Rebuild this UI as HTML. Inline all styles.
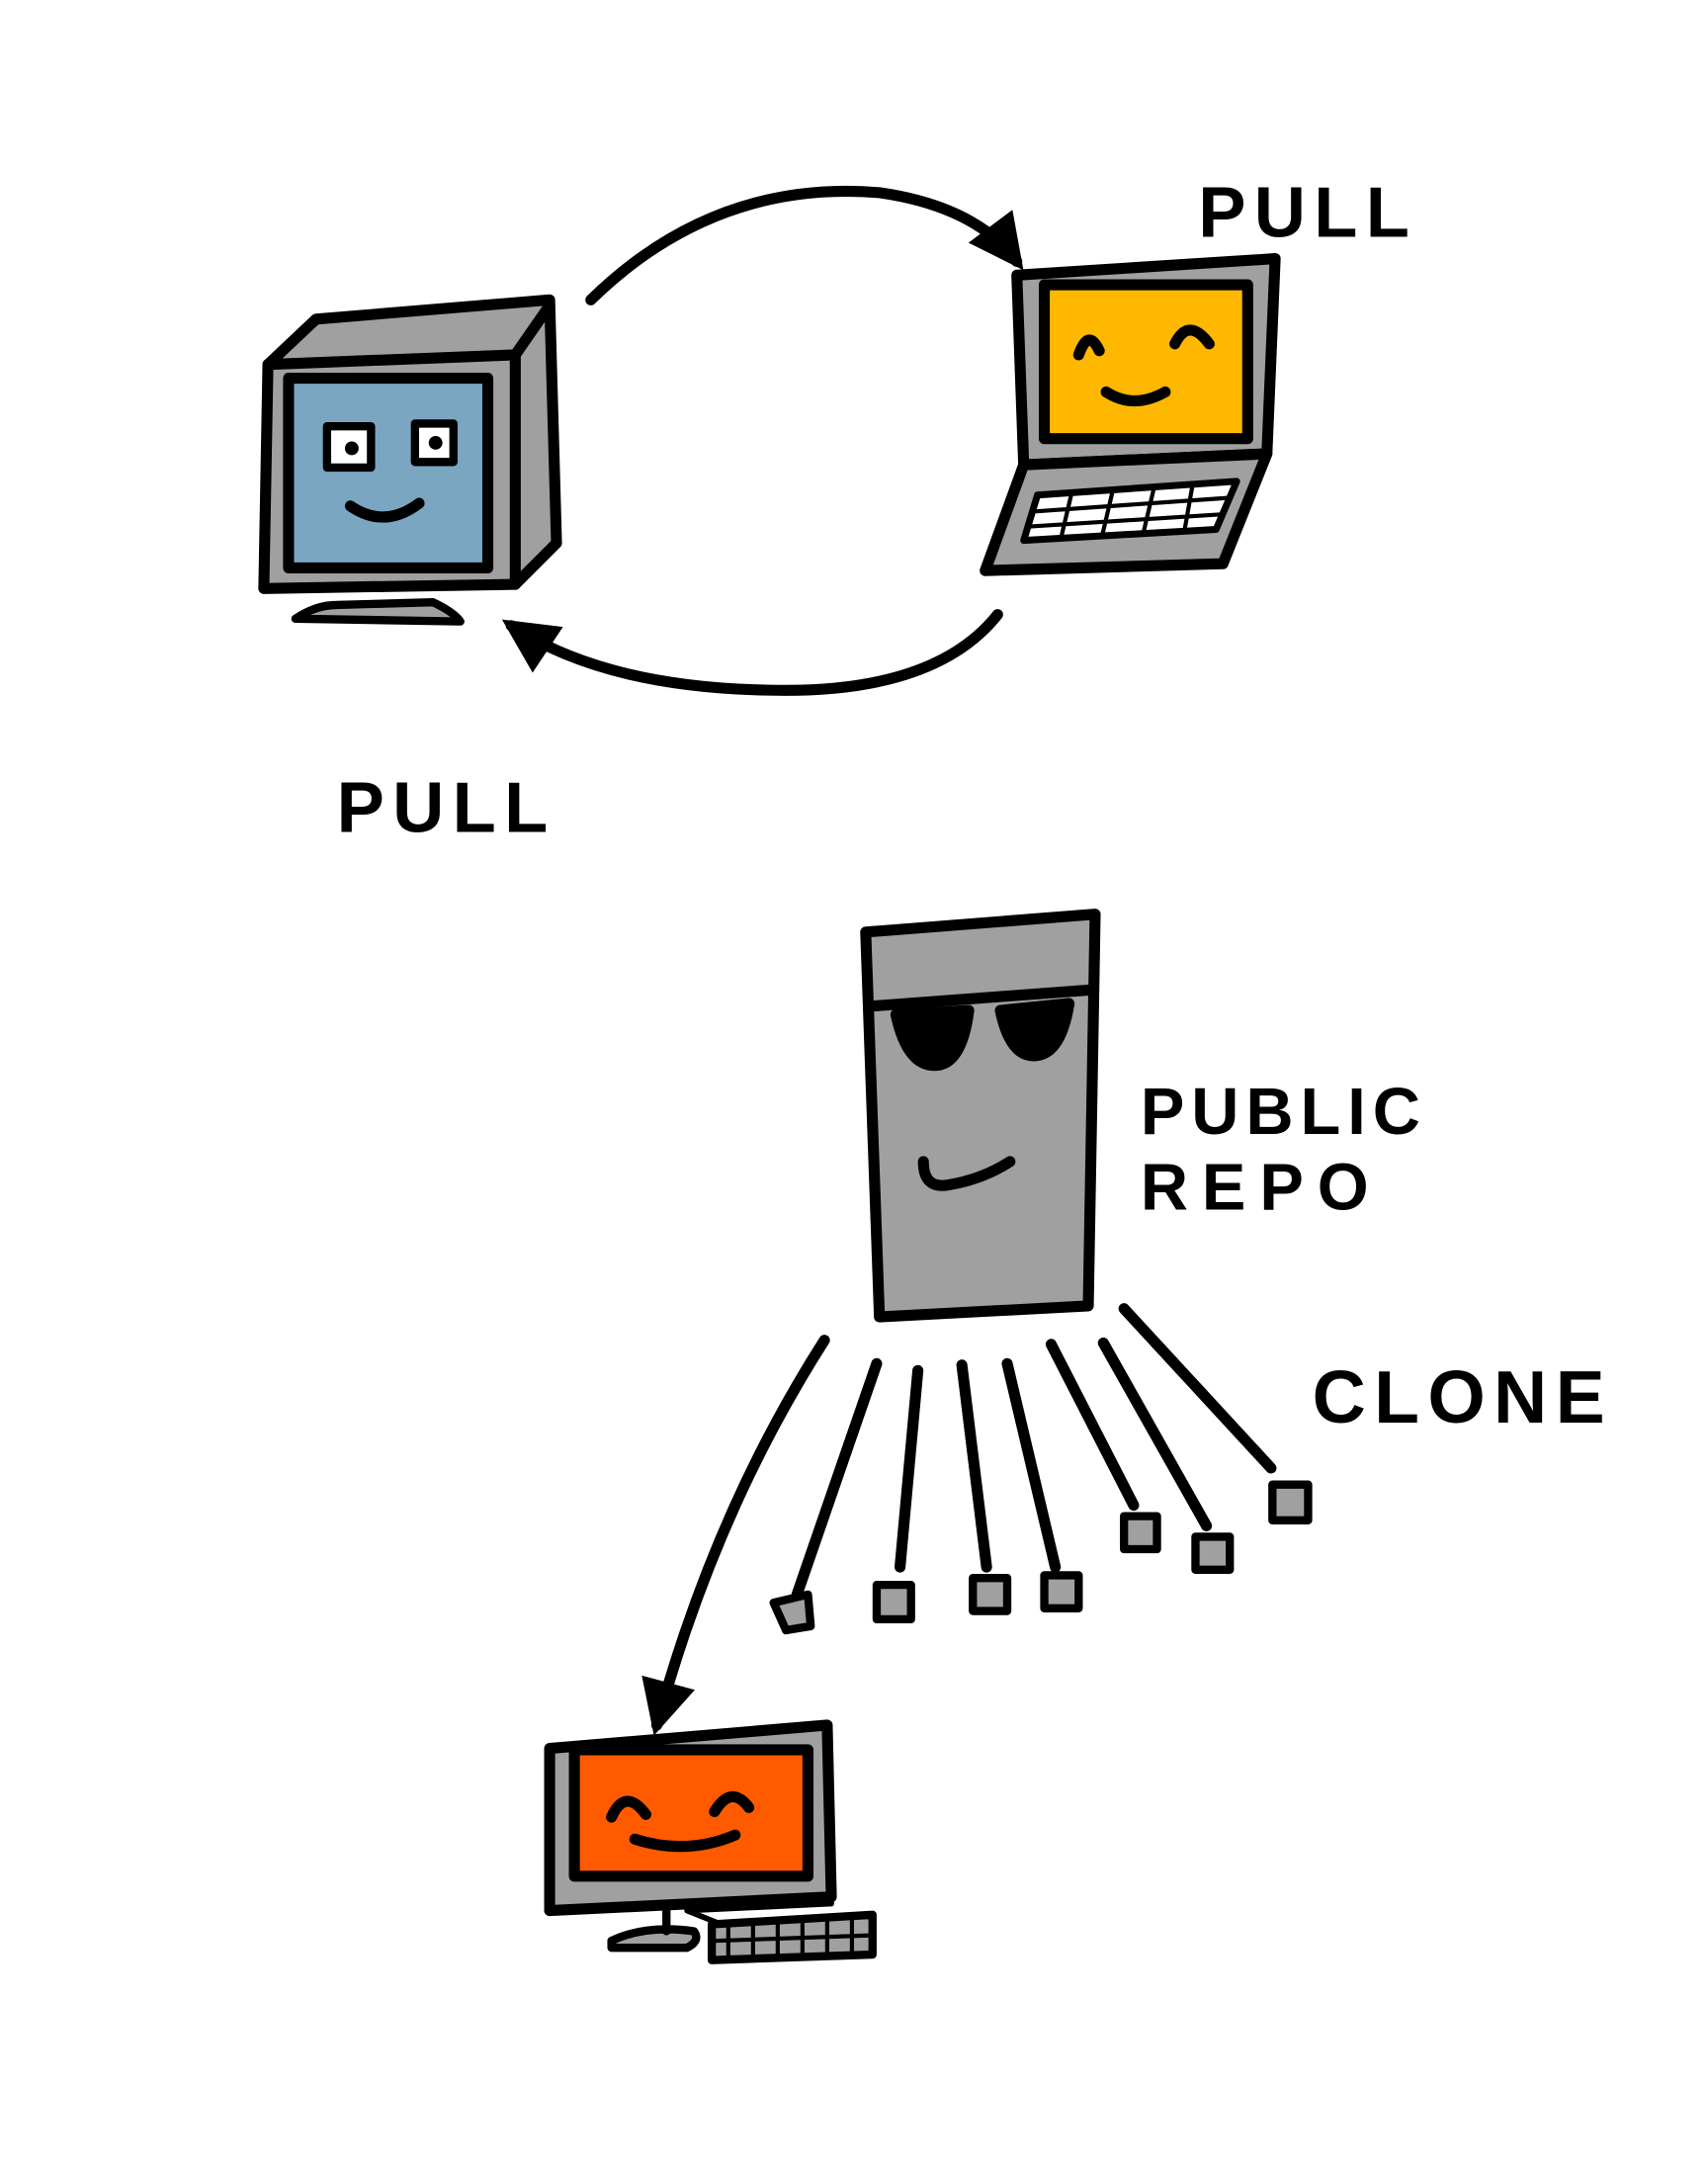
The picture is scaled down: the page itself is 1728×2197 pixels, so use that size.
<!DOCTYPE html>
<html><head><meta charset="utf-8"><style>
html,body{margin:0;padding:0;background:#fff}
svg{display:block}
text{font-family:"Liberation Sans",sans-serif;font-weight:bold;fill:#000}
</style></head><body>
<svg width="1728" height="2197" viewBox="0 0 1243 1580" xmlns="http://www.w3.org/2000/svg">
<defs>
<marker id="ah" viewBox="0 0 10 10" refX="8" refY="5" markerWidth="5" markerHeight="5" orient="auto-start-reverse">
<path d="M0,0 L10,5 L0,10 z" fill="#000"/></marker>
</defs>
<g stroke="#000" stroke-width="8" stroke-linejoin="round" stroke-linecap="round">
<path d="M195,265 L230,232 L400,218 L405,395 L375,425 L192,428 Z" fill="#a0a0a0"/>
<path d="M195,265 L375,258 L400,222" fill="none"/>
<path d="M375,258 L375,425" fill="none"/>
<rect x="210" y="275" width="145" height="138" fill="#7aa6c2"/>
<path d="M215,450 Q230,440 245,440 L315,438 Q330,445 335,452 Z" fill="#a0a0a0" stroke-width="6"/>
<rect x="238" y="310" width="32" height="30" fill="#fff" stroke-width="6"/>
<rect x="302" y="308" width="28" height="28" fill="#fff" stroke-width="6"/>
<circle cx="256" cy="326" r="4" fill="#000" stroke-width="2"/>
<circle cx="317" cy="322" r="4" fill="#000" stroke-width="2"/>
<path d="M255,368 Q280,385 305,366" fill="none"/>
<path d="M740,200 L928,188 L922,330 L745,338 Z" fill="#a0a0a0"/>
<rect x="760" y="207" width="148" height="112" fill="#ffb800"/>
<path d="M745,338 L922,330 L890,410 L717,415 Z" fill="#a0a0a0"/>
<path d="M755,360 L900,350 L885,385 L745,393 Z" fill="#fff" stroke-width="5"/>
<path d="M752,372 L895,362 M748,383 L890,374 M780,358 L772,392 M810,356 L802,390 M840,354 L832,388 M868,352 L862,386" stroke-width="3" fill="none"/>
<path d="M785,258 Q792,238 800,255 M855,250 Q865,230 880,250" fill="none"/>
<path d="M805,285 Q825,298 848,285" fill="none"/>
<path d="M430,218 Q520,130 640,140 Q710,150 740,190" fill="none" marker-end="url(#ah)"/>
<path d="M726,447 Q680,505 560,502 Q440,500 372,455" fill="none" marker-end="url(#ah)"/>
<path d="M630,678 L797,665 L792,950 L640,958 Z" fill="#a0a0a0"/>
<path d="M633,732 L795,720" fill="none"/>
<path d="M652,738 Q660,775 680,775 Q700,775 705,735 Z" fill="#000"/>
<path d="M728,735 Q735,768 752,768 Q772,768 778,730 Z" fill="#000"/>
<path d="M672,845 Q672,865 690,862 Q715,858 735,845" fill="none"/>
<path d="M600,975 Q520,1100 478,1255" fill="none" marker-end="url(#ah)"/>
<path d="M638,992 L580,1160 M668,997 L655,1140 M700,993 L718,1140 M733,992 L768,1140 M765,978 L825,1095 M803,977 L878,1110 M818,952 L925,1068" fill="none"/>
<g fill="#a0a0a0" stroke-width="6">
<path d="M563,1166 L588,1160 L590,1183 L572,1186 Z"/>
<rect x="638" y="1153" width="25" height="25"/>
<rect x="708" y="1148" width="25" height="24"/>
<rect x="760" y="1146" width="25" height="24"/>
<rect x="818" y="1103" width="24" height="24"/>
<rect x="870" y="1118" width="25" height="24"/>
<rect x="926" y="1080" width="26" height="26"/>
</g>
<path d="M400,1272 L602,1255 L605,1380 L400,1390 Z" fill="#a0a0a0"/>
<rect x="418" y="1273" width="170" height="92" fill="#ff5a00"/>
<path d="M485,1388 L485,1405 M445,1412 Q470,1400 505,1405 Q510,1412 500,1417 L445,1417 Z" fill="#a0a0a0" stroke-width="6"/>
<path d="M605,1362 L605,1385 L500,1390 L525,1400" fill="none" stroke-width="4"/>
<path d="M518,1400 L635,1393 L635,1422 L518,1426 Z" fill="#a0a0a0" stroke-width="6"/>
<path d="M530,1400 L530,1425 M548,1400 L548,1425 M566,1398 L566,1424 M584,1397 L584,1423 M602,1396 L602,1422 M620,1395 L620,1422 M520,1412 L634,1408" stroke-width="3" fill="none"/>
<path d="M445,1322 Q455,1300 470,1320 M520,1318 Q532,1298 545,1315" fill="none"/>
<path d="M462,1338 Q500,1350 535,1335" fill="none"/>
</g>
<text x="872" y="172" font-size="52" letter-spacing="6">PULL</text>
<text x="245" y="605" font-size="52" letter-spacing="6">PULL</text>
<text x="830" y="825" font-size="48" letter-spacing="5">PUBLIC</text>
<text x="830" y="880" font-size="48" letter-spacing="10">REPO</text>
<text x="955" y="1035" font-size="54" letter-spacing="6">CLONE</text>
</svg>
</body></html>
